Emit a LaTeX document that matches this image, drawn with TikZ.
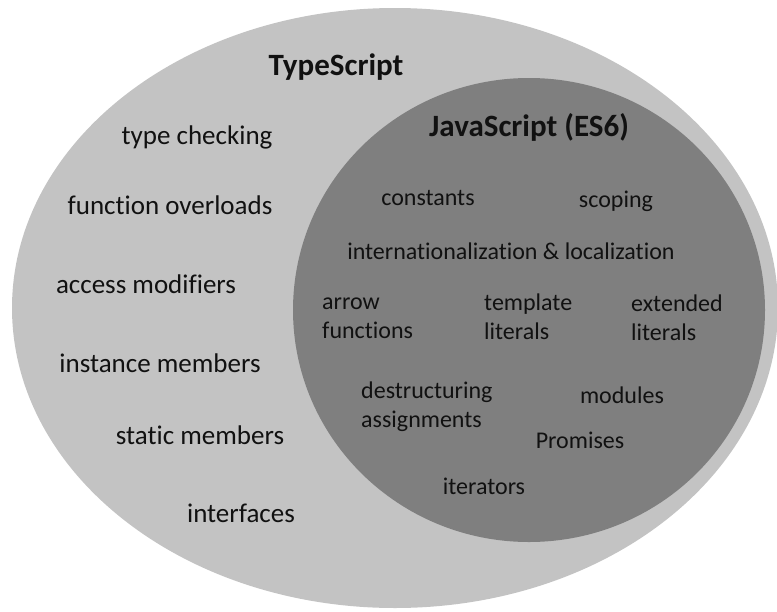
\documentclass[tikz,border=0pt]{standalone}
\usepackage{fontspec}
\setmainfont[Ligatures=NoCommon]{Carlito}
\begin{document}
\begin{tikzpicture}[x=1pt,y=-1pt,
  outerset/.style={fill=tsgray,draw=none},
  innerset/.style={fill=jsgray,draw=none},
  title/.style={font=\fontsize{31}{36}\selectfont\bfseries,text=txt,inner sep=0pt},
  tsitem/.style={font=\fontsize{27}{32}\selectfont,text=txt,inner sep=0pt},
  jsitem/.style={font=\fontsize{24}{29}\selectfont,text=txt,inner sep=0pt,align=left},
  jsitemleft/.style={jsitem,anchor=west}]
\definecolor{tsgray}{HTML}{C3C3C3}
\definecolor{jsgray}{HTML}{7F7F7F}
\definecolor{txt}{HTML}{111111}
\useasboundingbox (0,0) rectangle (777,611);
\clip (0,0) rectangle (777,611);
% the two sets
\fill[outerset] (395,308) ellipse [x radius=383, y radius=300];
\fill[innerset] (529,310) ellipse [x radius=236, y radius=232];
% TypeScript only
\node[title] (ts) at (336,67) {TypeScript};
\node[tsitem] (tc) at (197,137) {type checking};
\node[tsitem] (fo) at (170,205) {function overloads};
\node[tsitem] (am) at (146,284) {access modifiers};
\node[tsitem] (im) at (160,363) {instance members};
\node[tsitem] (sm) at (200,435) {static members};
\node[tsitem] (if) at (241,513) {interfaces};
% JavaScript (ES6)
\node[title] (js) at (529,127) {JavaScript (ES6)};
\node[jsitem] (co) at (428,198) {constants};
\node[jsitem] (sc) at (616,201) {scoping};
\node[jsitem] (il) at (511,251) {internationalization \& localization};
\node[jsitemleft] (af) at (322,318) {arrow\\functions};
\node[jsitemleft] (tl) at (484,317) {template\\literals};
\node[jsitemleft] (el) at (631,318) {extended\\literals};
\node[jsitemleft] (da) at (361,407) {destructuring\\assignments};
\node[jsitem] (mo) at (622,395) {modules};
\node[jsitem] (pr) at (580,440) {Promises};
\node[jsitem] (it) at (484,486) {iterators};
\end{tikzpicture}
\end{document}
